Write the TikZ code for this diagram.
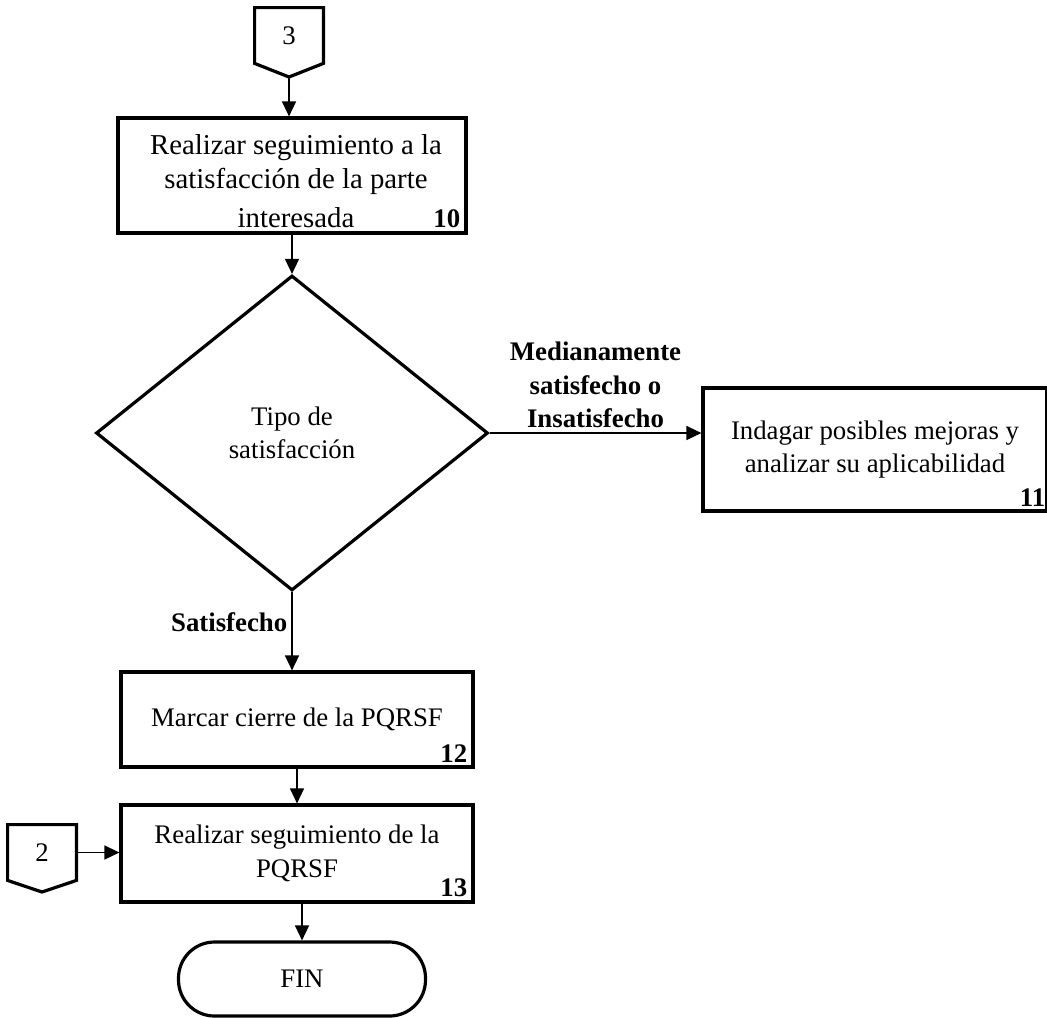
\documentclass[tikz,border=0pt]{standalone}
\usepackage{fontspec}
\setmainfont{Liberation Serif}
\usetikzlibrary{arrows.meta,shapes.geometric,calc}

\newcommand{\flowsize}{\fontsize{13.4}{16.8}\selectfont}

\tikzset{
  proc/.style={draw, line width=1.6pt, inner sep=0pt, align=center},
  decision/.style={draw, diamond, line width=1.6pt, inner sep=0pt, align=center},
  term/.style={draw, line width=1.6pt, rounded corners=18pt, inner sep=0pt},
  conn/.style={inner sep=0pt, minimum width=34pt, minimum height=27.5pt},
  stepnum/.style={font=\flowsize\bfseries, anchor=south east, inner xsep=3.5pt, inner ysep=3pt},
  flow/.style={line width=0.75pt, -{Triangle[length=7.5pt,width=7pt]}},
  choice/.style={font=\flowsize\bfseries, align=center, inner sep=2pt}
}

\begin{document}
\begin{tikzpicture}[x=0.5pt,y=-0.5pt,font=\flowsize]
  \useasboundingbox (0,0) rectangle (1047,1017);

  % conector de pagina 3
  \node[conn] (c3) at (289,35.5) {3};
  \coordinate (c3tip) at (289,77);
  \draw[line width=1.6pt] (c3.south west) -- (c3.north west) -- (c3.north east)
    -- (c3.south east) -- (c3tip) -- cycle;

  \node[proc, minimum width=174pt, minimum height=57.5pt] (seg) at (292,175.5) {};
  \begin{scope}[font=\fontsize{14.4}{17}\selectfont]
    \node at (296,148) {Realizar seguimiento a la};
    \node at (296,181) {satisfacción de la parte};
    \node at (296,218) {interesada};
  \end{scope}
  \node[stepnum] at (seg.south east) {10};

  \node[decision, minimum width=196pt, minimum height=157.5pt] (tipo) at (292,433)
    {Tipo de\\satisfacción};

  \node[proc, minimum width=172pt, minimum height=61.5pt] (indag) at (875,449.5)
    {Indagar posibles mejoras y\\analizar su aplicabilidad};
  \node[stepnum, inner xsep=1.5pt] at (indag.south east) {11};

  \node[proc, minimum width=176pt, minimum height=47.5pt] (marcar) at (297,719.5)
    {Marcar cierre de la PQRSF};
  \node[stepnum] at (marcar.south east) {12};

  \node[proc, minimum width=176pt, minimum height=48.5pt] (segpq) at (297,853.5)
    {Realizar seguimiento de la\\PQRSF};
  \node[stepnum] at (segpq.south east) {13};

  % conector de pagina 2
  \node[conn] (c2) at (42,852.5) {2};
  \coordinate (c2tip) at (42,892);
  \draw[line width=1.6pt] (c2.south west) -- (c2.north west) -- (c2.north east)
    -- (c2.south east) -- (c2tip) -- cycle;

  \node[term, minimum width=123.5pt, minimum height=37pt] (fin) at (302,979) {FIN};

  % flechas
  \draw[flow] (c3tip) -- (seg.north -| c3tip);
  \draw[flow] (seg.south -| tipo.north) -- (tipo.north);
  \draw[flow] (tipo.east) -- (indag.west |- tipo.east)
    node[choice, midway, above] {Medianamente\\satisfecho o\\Insatisfecho};
  \draw[flow] (tipo.south) -- (marcar.north -| tipo.south)
    node[choice, pos=0.38, left] {Satisfecho};
  \draw[flow] (marcar.south) -- (segpq.north);
  \draw[flow] (c2.east) -- (segpq.west |- c2.east);
  \draw[flow] (segpq.south -| fin.north) -- (fin.north);
\end{tikzpicture}
\end{document}
